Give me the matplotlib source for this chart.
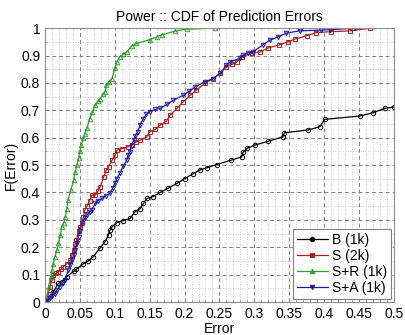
import matplotlib
matplotlib.use("Agg")
import matplotlib.pyplot as plt
from matplotlib.ticker import MultipleLocator

plt.rcParams['font.family'] = ['Liberation Sans', 'DejaVu Sans']

# B (1k)
b_err = [0, 0.002, 0.012, 0.019, 0.024, 0.031, 0.041, 0.045, 0.055, 0.062, 0.069, 0.079,
         0.086, 0.091, 0.093, 0.096, 0.103, 0.112, 0.122, 0.129, 0.136, 0.141, 0.146, 0.155,
         0.165, 0.176, 0.189, 0.200, 0.212, 0.222, 0.232, 0.246, 0.267, 0.282, 0.284, 0.290,
         0.301, 0.320, 0.341, 0.343, 0.377, 0.394, 0.401, 0.451, 0.470, 0.487, 0.500, 0.520]
b_cdf = [0, 0.007, 0.038, 0.068, 0.074, 0.092, 0.112, 0.120, 0.140, 0.150, 0.165, 0.198,
         0.220, 0.245, 0.262, 0.275, 0.290, 0.297, 0.305, 0.330, 0.340, 0.360, 0.378, 0.385,
         0.400, 0.415, 0.433, 0.450, 0.468, 0.482, 0.490, 0.502, 0.518, 0.530, 0.547, 0.562,
         0.573, 0.587, 0.603, 0.618, 0.628, 0.640, 0.667, 0.679, 0.691, 0.707, 0.712, 0.720]

# S (2k)
s_err = [0, 0.002, 0.005, 0.007, 0.010, 0.012, 0.016, 0.019, 0.023, 0.026, 0.031, 0.036,
         0.038, 0.041, 0.043, 0.045, 0.048, 0.050, 0.053, 0.055, 0.057, 0.060, 0.064, 0.067,
         0.072, 0.076, 0.079, 0.084, 0.088, 0.091, 0.096, 0.100, 0.103, 0.110, 0.119, 0.125,
         0.131, 0.136, 0.146, 0.150, 0.158, 0.165, 0.174, 0.179, 0.189, 0.198, 0.208, 0.217,
         0.229, 0.241, 0.251, 0.260, 0.268, 0.275, 0.282, 0.296, 0.308, 0.320, 0.335, 0.348,
         0.358, 0.375, 0.389, 0.410, 0.437, 0.466]
s_cdf = [0, 0.007, 0.030, 0.056, 0.080, 0.099, 0.105, 0.110, 0.120, 0.129, 0.140, 0.153,
         0.170, 0.190, 0.210, 0.226, 0.260, 0.275, 0.287, 0.310, 0.336, 0.350, 0.370, 0.390,
         0.390, 0.405, 0.421, 0.457, 0.482, 0.494, 0.518, 0.535, 0.555, 0.560, 0.567, 0.575,
         0.585, 0.590, 0.603, 0.622, 0.630, 0.646, 0.660, 0.682, 0.707, 0.731, 0.755, 0.774,
         0.798, 0.816, 0.835, 0.859, 0.868, 0.877, 0.895, 0.908, 0.913, 0.928, 0.938, 0.950,
         0.960, 0.972, 0.984, 0.987, 0.990, 1.0]

# S+R (1k)
r_err = [0, 0.002, 0.005, 0.008, 0.010, 0.012, 0.014, 0.017, 0.019, 0.022, 0.024, 0.027,
         0.029, 0.031, 0.033, 0.037, 0.041, 0.043, 0.046, 0.048, 0.050, 0.052, 0.055, 0.057,
         0.060, 0.064, 0.068, 0.072, 0.076, 0.079, 0.083, 0.086, 0.088, 0.092, 0.096, 0.100,
         0.103, 0.107, 0.112, 0.117, 0.124, 0.131, 0.150, 0.160, 0.167, 0.186, 0.203, 0.243]
r_cdf = [0, 0.013, 0.056, 0.090, 0.117, 0.140, 0.165, 0.190, 0.214, 0.245, 0.275, 0.290,
         0.311, 0.340, 0.372, 0.410, 0.445, 0.475, 0.500, 0.525, 0.550, 0.575, 0.600, 0.615,
         0.634, 0.670, 0.695, 0.719, 0.735, 0.743, 0.760, 0.768, 0.792, 0.805, 0.816, 0.853,
         0.877, 0.895, 0.905, 0.913, 0.935, 0.944, 0.958, 0.968, 0.975, 0.989, 0.996, 1.0]

# S+A (1k)
a_err = [0, 0.004, 0.007, 0.010, 0.014, 0.017, 0.021, 0.025, 0.029, 0.033, 0.036, 0.038,
         0.041, 0.043, 0.046, 0.048, 0.050, 0.053, 0.057, 0.060, 0.064, 0.067, 0.072, 0.076,
         0.081, 0.087, 0.093, 0.097, 0.100, 0.103, 0.107, 0.112, 0.117, 0.119, 0.122, 0.124,
         0.127, 0.129, 0.133, 0.136, 0.141, 0.145, 0.150, 0.158, 0.165, 0.175, 0.184, 0.198,
         0.207, 0.215, 0.229, 0.241, 0.251, 0.260, 0.265, 0.279, 0.284, 0.291, 0.298, 0.313,
         0.322, 0.334, 0.346, 0.365, 0.396, 0.408, 0.444]
a_cdf = [0, 0.005, 0.013, 0.022, 0.031, 0.043, 0.056, 0.068, 0.080, 0.117, 0.135, 0.153,
         0.170, 0.190, 0.215, 0.238, 0.260, 0.287, 0.305, 0.317, 0.330, 0.336, 0.360, 0.370,
         0.378, 0.388, 0.397, 0.415, 0.433, 0.450, 0.470, 0.495, 0.518, 0.535, 0.549, 0.570,
         0.591, 0.605, 0.622, 0.645, 0.670, 0.685, 0.695, 0.703, 0.707, 0.722, 0.737, 0.755,
         0.770, 0.786, 0.804, 0.816, 0.835, 0.865, 0.877, 0.890, 0.901, 0.910, 0.913, 0.940,
         0.956, 0.968, 0.982, 0.990, 0.993, 0.994, 1.0]

labels = ['B (1k)', 'S (2k)', 'S+R (1k)', 'S+A (1k)']
colors = ['#000000', '#b01e1e', '#2aa02a', '#1a1aa8']
markers = ['o', 's', '^', 'v']

fig = plt.figure(figsize=(4.06, 3.35), dpi=100)
ax = fig.add_axes([0.111, 0.0985, 0.859, 0.8175])

series = [(b_err, b_cdf), (s_err, s_cdf), (r_err, r_cdf), (a_err, a_cdf)]
for (xs, ys), lab, col, mk in zip(series, labels, colors, markers):
    ax.plot(xs, ys, color=col, lw=0.9, marker=mk, markersize=3.2,
            markerfacecolor='none', markeredgewidth=0.7, label=lab)

ax.set_xlim(0, 0.5)
ax.set_ylim(0, 1)
ax.xaxis.set_major_locator(MultipleLocator(0.05))
ax.yaxis.set_major_locator(MultipleLocator(0.1))
ax.xaxis.set_minor_locator(MultipleLocator(0.01))
ax.yaxis.set_minor_locator(MultipleLocator(0.05))
ax.set_xticklabels(['0', '0.05', '0.1', '0.15', '0.2', '0.25', '0.3', '0.35', '0.4', '0.45', '0.5'])
ax.set_yticklabels(['0', '0.1', '0.2', '0.3', '0.4', '0.5', '0.6', '0.7', '0.8', '0.9', '1'])
ax.set_xticks([0, 0.05, 0.1, 0.15, 0.2, 0.25, 0.3, 0.35, 0.4, 0.45, 0.5])
ax.set_yticks([0, 0.1, 0.2, 0.3, 0.4, 0.5, 0.6, 0.7, 0.8, 0.9, 1.0])

ax.grid(True, which='major', color='#808080', linestyle=(0, (4, 3)), linewidth=0.7)
ax.grid(True, which='minor', color='#b8b8b8', linestyle=(0, (1, 2)), linewidth=0.6)
ax.tick_params(which='both', direction='in', colors='#808080', labelcolor='black',
               labelsize=10, length=3)
ax.tick_params(which='minor', length=1.5)
for sp in ax.spines.values():
    sp.set_color('#909090')
    sp.set_linewidth(0.8)

ax.set_title('Power :: CDF of Prediction Errors', fontsize=10, pad=5)
ax.set_xlabel('Error', fontsize=10, labelpad=1)
ax.set_ylabel('F(Error)', fontsize=10, labelpad=2)

leg = ax.legend(loc='lower right', fontsize=10, fancybox=False, framealpha=1,
                edgecolor='#808080', borderaxespad=0.2, handlelength=2.2,
                handletextpad=0.3, labelspacing=0.15, borderpad=0.3)
leg.get_frame().set_linewidth(0.8)
for h in leg.legend_handles:
    h.set_markerfacecolor(h.get_color())

fig.savefig('out.png', dpi=100)
